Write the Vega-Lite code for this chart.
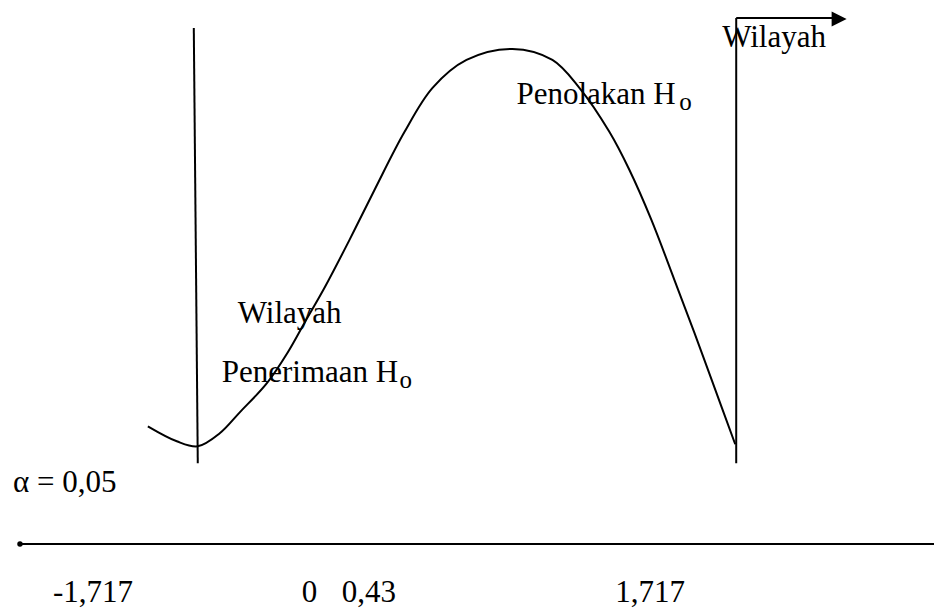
{
  "$schema": "https://vega.github.io/schema/vega-lite/v6.json",
  "width": 935,
  "height": 608,
  "padding": 0,
  "autosize": {"type": "fit", "contains": "padding"},
  "background": "white",
  "config": {"view": {"stroke": null}},
  "datasets": {
    "curve": [
      {"px": 148, "py": 427}, {"px": 177, "py": 442}, {"px": 198, "py": 447},
      {"px": 220, "py": 434}, {"px": 240, "py": 413}, {"px": 267, "py": 384},
      {"px": 288, "py": 353}, {"px": 305, "py": 323}, {"px": 325, "py": 288},
      {"px": 350, "py": 240}, {"px": 375, "py": 190}, {"px": 405, "py": 132},
      {"px": 433, "py": 88}, {"px": 467, "py": 60}, {"px": 513, "py": 49},
      {"px": 553, "py": 60}, {"px": 580, "py": 88}, {"px": 610, "py": 132},
      {"px": 630, "py": 170}, {"px": 652, "py": 220}, {"px": 675, "py": 280},
      {"px": 695, "py": 333}, {"px": 713, "py": 382}, {"px": 736, "py": 445}
    ],
    "rules": [
      {"px": 194, "py": 28, "px2": 198, "py2": 464},
      {"px": 737, "py": 18, "px2": 737, "py2": 464},
      {"px": 737, "py": 18, "px2": 836, "py2": 18},
      {"px": 20, "py": 545, "px2": 935, "py2": 545}
    ],
    "texts": [
      {"label": "Wilayah", "px": 723, "py": 47},
      {"label": "Penolakan H", "px": 517, "py": 104},
      {"label": "Wilayah", "px": 238, "py": 324},
      {"label": "Penerimaan H", "px": 222, "py": 383},
      {"label": "α = 0,05", "px": 13, "py": 493},
      {"label": "-1,717", "px": 53, "py": 603},
      {"label": "0", "px": 302, "py": 603},
      {"label": "0,43", "px": 342, "py": 603},
      {"label": "1,717", "px": 616, "py": 603}
    ],
    "subs": [
      {"label": "o", "px": 680, "py": 110},
      {"label": "o", "px": 400, "py": 389}
    ],
    "arrow": [{"px": 840, "py": 19}],
    "dot": [{"px": 20, "py": 545}]
  },
  "layer": [
    {
      "data": {"name": "curve"},
      "mark": {"type": "line", "interpolate": "catmull-rom", "color": "black", "strokeWidth": 2},
      "encoding": {
        "x": {"field": "px", "type": "quantitative", "scale": {"domain": [0, 935], "nice": false, "zero": false}, "axis": null},
        "y": {"field": "py", "type": "quantitative", "scale": {"domain": [0, 608], "reverse": true, "nice": false, "zero": false}, "axis": null}
      }
    },
    {
      "data": {"name": "rules"},
      "mark": {"type": "rule", "color": "black", "strokeWidth": 2},
      "encoding": {
        "x": {"field": "px", "type": "quantitative"},
        "y": {"field": "py", "type": "quantitative"},
        "x2": {"field": "px2"},
        "y2": {"field": "py2"}
      }
    },
    {
      "data": {"name": "arrow"},
      "mark": {"type": "point", "shape": "M-1,-1L1,0L-1,1Z", "filled": true, "color": "black", "size": 225, "opacity": 1},
      "encoding": {
        "x": {"field": "px", "type": "quantitative"},
        "y": {"field": "py", "type": "quantitative"}
      }
    },
    {
      "data": {"name": "dot"},
      "mark": {"type": "point", "shape": "circle", "filled": true, "color": "black", "size": 30, "opacity": 1},
      "encoding": {
        "x": {"field": "px", "type": "quantitative"},
        "y": {"field": "py", "type": "quantitative"}
      }
    },
    {
      "data": {"name": "texts"},
      "mark": {"type": "text", "font": "'Liberation Serif', 'Times New Roman', Times, serif", "fontSize": 31, "color": "black", "align": "left", "baseline": "alphabetic"},
      "encoding": {
        "x": {"field": "px", "type": "quantitative"},
        "y": {"field": "py", "type": "quantitative"},
        "text": {"field": "label"}
      }
    },
    {
      "data": {"name": "subs"},
      "mark": {"type": "text", "font": "'Liberation Serif', 'Times New Roman', Times, serif", "fontSize": 25, "color": "black", "align": "left", "baseline": "alphabetic"},
      "encoding": {
        "x": {"field": "px", "type": "quantitative"},
        "y": {"field": "py", "type": "quantitative"},
        "text": {"field": "label"}
      }
    }
  ]
}
